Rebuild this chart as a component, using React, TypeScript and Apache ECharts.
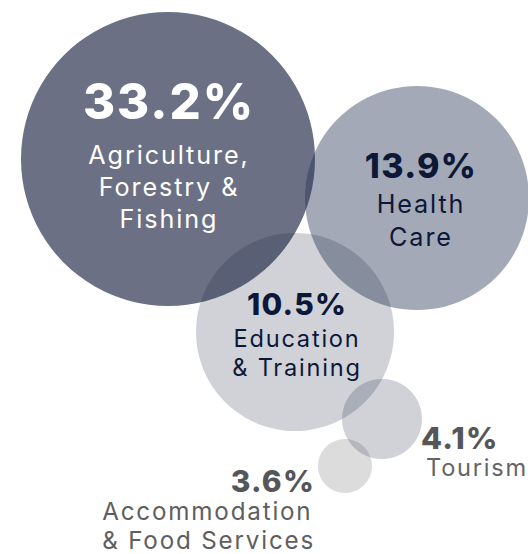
import React, { useEffect, useRef } from "react";
import * as echarts from "echarts";

const sectors = [
  "Agriculture,\nForestry &\nFishing",
  "Health\nCare",
  "Education\n& Training",
  "Tourism",
  "Accommodation\n& Food Services",
];
const shares = [33.2, 13.9, 10.5, 4.1, 3.6];

// bubble layout (chart coordinates) and radii
const bubbleX = [168, 417, 295, 382, 345];
const bubbleY = [159, 198, 332, 419, 466];
const bubbleRadius = [147, 112, 99, 40, 27];

const FONT_NUM = "Inter, Roboto, sans-serif";
const FONT_TXT = "Inter, 'Liberation Sans', sans-serif";
const LS_NUM = 0.04; // em
const LS_TXT = 0.075; // em

export default function App() {
  const ref = useRef<HTMLDivElement>(null);
  useEffect(() => {
    if (!ref.current) return;
    const chart = echarts.init(ref.current, undefined, { renderer: "svg" });

    const fills = [
      "rgba(20,28,60,0.63)",
      "rgba(36,50,81,0.42)",
      "rgba(20,28,60,0.2)",
      "rgba(20,28,60,0.2)",
      "rgba(60,60,60,0.18)",
    ];

    type Cfg = {
      align: string;
      offset: number[];
      pctSize: number;
      pctLH: number;
      nameSize: number;
      nameLH: number;
      color: string;
      nameColor: string;
      lineAlign?: string;
      pctAlign?: string;
      padLines?: boolean;
      indent?: number;
    };

    const cfgs: Cfg[] = [
      { align: "center", offset: [1, -10], pctSize: 49, pctLH: 76, nameSize: 25.2, nameLH: 32, color: "#ffffff", nameColor: "#ffffff" },
      { align: "center", offset: [4, 0], pctSize: 34, pctLH: 44, nameSize: 25.2, nameLH: 33, color: "#0d1838", nameColor: "#0d1838" },
      { align: "center", offset: [2, 1], pctSize: 30, pctLH: 39, nameSize: 23.6, nameLH: 29, color: "#0d1838", nameColor: "#0d1838" },
      { align: "left", offset: [39, 33.5], pctSize: 30.5, pctLH: 29, nameSize: 23.6, nameLH: 30, color: "#55565a", nameColor: "#646466", lineAlign: "left", pctAlign: "left", indent: 5 },
      { align: "right", offset: [-30, 44], pctSize: 30, pctLH: 31, nameSize: 24.2, nameLH: 29, color: "#55565a", nameColor: "#5e5e60", lineAlign: "left", pctAlign: "right", padLines: true },
    ];

    const data = shares.map((v, i) => {
      const c = cfgs[i];
      const lines = sectors[i].split("\n");
      const rich: Record<string, any> = {
        p: {
          fontFamily: FONT_NUM,
          fontWeight: 800,
          fontSize: c.pctSize,
          lineHeight: c.pctLH,
          color: c.color,
          align: c.pctAlign,
        },
      };
      lines.forEach((s, j) => {
        rich["n" + j] = {
          fontFamily: FONT_TXT,
          fontWeight: 400,
          fontSize: c.nameSize,
          lineHeight: c.nameLH,
          color: c.nameColor,
          align: c.lineAlign,
          // reserve room for the CSS letter-spacing so the block is measured at its real width
          padding: [0, c.padLines ? s.length * LS_TXT * c.nameSize : 0, 0, c.indent || 0],
        };
      });
      return {
        value: [bubbleX[i], bubbleY[i], v],
        symbolSize: bubbleRadius[i] * 2,
        itemStyle: { color: fills[i], opacity: 1 },
        label: {
          show: true,
          position: "inside",
          align: c.align,
          verticalAlign: "middle",
          offset: c.offset,
          formatter: () =>
            `{p|${v.toFixed(1)}%}\n` + lines.map((s, j) => `{n${j}|${s}}`).join("\n"),
          rich,
        },
      };
    });

    chart.setOption({
      animation: false,
      grid: { left: 0, right: 0, top: 0, bottom: 0 },
      xAxis: { type: "value", min: 0, max: 528, show: false },
      yAxis: { type: "value", min: 0, max: 554, inverse: true, show: false },
      series: [
        {
          type: "scatter",
          symbol: "circle",
          data,
          itemStyle: { opacity: 1 },
          emphasis: { disabled: true },
        },
      ],
    });
    return () => chart.dispose();
  }, []);
  return (
    <>
      <style>{`
        #bubbles svg text[style*="Roboto"] { letter-spacing: ${LS_NUM}em; }
        #bubbles svg text[style*="Liberation"] { letter-spacing: ${LS_TXT}em; }
      `}</style>
      <div
        id="bubbles"
        ref={ref}
        style={{ position: "fixed", left: 0, top: 0, width: 528, height: 554, background: "#ffffff" }}
      />
    </>
  );
}
